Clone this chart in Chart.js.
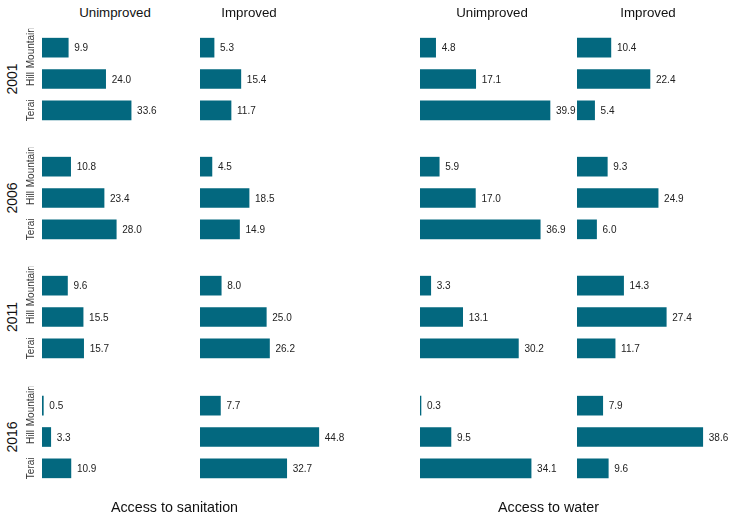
<!DOCTYPE html>
<html>
<head>
<meta charset="utf-8">
<script src="https://cdn.jsdelivr.net/npm/chart.js@4"></script>
<style>
  body { margin: 0; background: #fff; font-family: "Liberation Sans", Arial, sans-serif; }
  #wrap { position: relative; width: 733px; height: 519px; overflow: hidden; }
  #wrap canvas { position: absolute; }
  .txt { position: absolute; white-space: nowrap; transform: translate(-50%, -50%); color: #111; }
  .year { transform: translate(-50%, -50%) rotate(-90deg); font-size: 14px; }
  .head { font-size: 13.3px; }
  .foot { font-size: 14.3px; }
</style>
</head>
<body>
<div id="wrap"></div>
<script>
// Data (rows: 2001, 2006, 2011, 2016; order Mountain, Hill, Terai)
const years = ['2001', '2006', '2011', '2016'];
const regions = ['Mountain', 'Hill', 'Terai'];
const columnHeads = ['Unimproved', 'Improved', 'Unimproved', 'Improved'];
const groupTitles = ['Access to sanitation', 'Access to water'];

const sanitationUnimproved = [[9.9, 24.0, 33.6], [10.8, 23.4, 28.0], [9.6, 15.5, 15.7], [0.5, 3.3, 10.9]];
const sanitationImproved = [[5.3, 15.4, 11.7], [4.5, 18.5, 14.9], [8.0, 25.0, 26.2], [7.7, 44.8, 32.7]];
const waterUnimproved = [[4.8, 17.1, 39.9], [5.9, 17.0, 36.9], [3.3, 13.1, 30.2], [0.3, 9.5, 34.1]];
const waterImproved = [[10.4, 22.4, 5.4], [9.3, 24.9, 6.0], [14.3, 27.4, 11.7], [7.9, 38.6, 9.6]];

const columns = [sanitationUnimproved, sanitationImproved, waterUnimproved, waterImproved];
// x axis upper limit per column (sanitation panels share one range, water panels another)
const axisMax = [54.3, 54.3, 44.2, 44.2];

// layout
const barColor = '#03687f';
const colLeft = [42, 200, 420, 577];
const rowTop = 31.8, rowStep = 119.3;
const plotW = 144, plotH = 94;
const padL = 45, padR = 40, padT = 10, padB = 10;
const headX = [115, 249, 492, 648];
const footX = [174.5, 548.5];
const font = '"Liberation Sans", Arial, sans-serif';

const wrap = document.getElementById('wrap');

function addText(cls, text, x, y) {
    const d = document.createElement('div');
    d.className = 'txt ' + cls;
    d.textContent = text;
    d.style.left = x + 'px';
    d.style.top = y + 'px';
    wrap.appendChild(d);
}

// value label right of each bar
const valueLabels = {
    id: 'valueLabels',
    afterDatasetsDraw(chart) {
        const ctx = chart.ctx;
        const vals = chart.data.datasets[0].data;
        ctx.save();
        ctx.font = '10px ' + font;
        ctx.fillStyle = '#222';
        ctx.textBaseline = 'middle';
        ctx.textAlign = 'left';
        chart.getDatasetMeta(0).data.forEach((bar, i) => {
            ctx.fillText(vals[i].toFixed(1), bar.x + 6, bar.y + 1);
        });
        ctx.restore();
    }
};

// rotated region names left of the first column
const regionLabels = {
    id: 'regionLabels',
    afterDraw(chart) {
        const ctx = chart.ctx;
        const x = chart.chartArea.left - 11;
        chart.getDatasetMeta(0).data.forEach((bar, i) => {
            ctx.save();
            ctx.beginPath();
            ctx.rect(0, bar.y - 19, chart.width, chart.height);
            ctx.clip();
            ctx.translate(x, bar.y);
            ctx.rotate(-Math.PI / 2);
            ctx.font = '10px ' + font;
            ctx.fillStyle = '#333';
            ctx.textAlign = 'center';
            ctx.textBaseline = 'middle';
            ctx.fillText(chart.data.labels[i], 0, 0);
            ctx.restore();
        });
    }
};

years.forEach((year, r) => {
    const top = rowTop + r * rowStep;
    addText('year', year, 12, top + plotH / 2);

    columns.forEach((col, c) => {
        const canvas = document.createElement('canvas');
        canvas.width = padL + plotW + padR;
        canvas.height = padT + plotH + padB;
        canvas.style.left = (colLeft[c] - padL) + 'px';
        canvas.style.top = (top - padT) + 'px';
        wrap.appendChild(canvas);

        new Chart(canvas.getContext('2d'), {
            type: 'bar',
            data: {
                labels: regions,
                datasets: [{
                    data: col[r],
                    backgroundColor: barColor,
                    barThickness: 19
                }]
            },
            options: {
                indexAxis: 'y',
                responsive: false,
                animation: false,
                layout: { padding: { left: padL, right: padR, top: padT, bottom: padB } },
                scales: {
                    x: { display: false, min: 0, max: axisMax[c] },
                    y: { display: false }
                },
                plugins: {
                    legend: { display: false },
                    tooltip: { enabled: false }
                }
            },
            plugins: c === 0 ? [valueLabels, regionLabels] : [valueLabels]
        });
    });
});

columnHeads.forEach((h, c) => addText('head', h, headX[c], 12));
groupTitles.forEach((t, g) => addText('foot', t, footX[g], 507));
</script>
</body>
</html>
